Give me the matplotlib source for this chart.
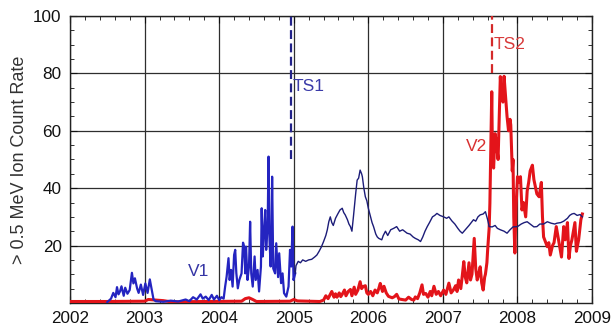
import matplotlib
matplotlib.use('Agg')
import matplotlib.pyplot as plt
import numpy as np
from matplotlib.ticker import MultipleLocator

plt.rcParams['font.family'] = ['Liberation Sans', 'DejaVu Sans']

# V1 count rate (year, value)
v1_t = [2002.50, 2002.55, 2002.58, 2002.61, 2002.63, 2002.65, 2002.67, 2002.69, 2002.72, 2002.74,
        2002.77, 2002.80, 2002.83, 2002.85, 2002.87, 2002.90, 2002.92, 2002.95, 2002.98, 2003.01,
        2003.04, 2003.07, 2003.10, 2003.12, 2003.15, 2003.25, 2003.35, 2003.45, 2003.55, 2003.60,
        2003.65, 2003.70, 2003.75, 2003.78, 2003.82, 2003.86, 2003.90, 2003.93, 2003.97, 2004.00,
        2004.03, 2004.06, 2004.08, 2004.10, 2004.125, 2004.14, 2004.16, 2004.18, 2004.20, 2004.215,
        2004.23, 2004.25, 2004.27, 2004.30, 2004.32, 2004.335, 2004.35, 2004.36, 2004.38, 2004.40,
        2004.415, 2004.43, 2004.45, 2004.475, 2004.49, 2004.515, 2004.535, 2004.56, 2004.57, 2004.585,
        2004.60, 2004.617, 2004.63, 2004.65, 2004.662, 2004.675, 2004.69, 2004.70, 2004.71, 2004.725,
        2004.75, 2004.765, 2004.79, 2004.805, 2004.83, 2004.85, 2004.87, 2004.90, 2004.93, 2004.95,
        2004.966, 2004.984, 2004.997, 2005.02,
        2005.03, 2005.06, 2005.09, 2005.12, 2005.16, 2005.20, 2005.24, 2005.28, 2005.31, 2005.34,
        2005.37, 2005.40, 2005.43, 2005.45, 2005.47, 2005.49, 2005.51, 2005.53, 2005.56, 2005.59,
        2005.62, 2005.65, 2005.67, 2005.69, 2005.72, 2005.74, 2005.76, 2005.78, 2005.80, 2005.83,
        2005.85, 2005.87, 2005.89, 2005.91, 2005.92, 2005.94, 2005.96, 2005.98, 2006.00, 2006.03,
        2006.05, 2006.07, 2006.10, 2006.12, 2006.14, 2006.18, 2006.20, 2006.23, 2006.26, 2006.30,
        2006.34, 2006.38, 2006.42, 2006.46, 2006.52, 2006.56, 2006.60, 2006.63, 2006.67, 2006.70,
        2006.73, 2006.76, 2006.79, 2006.82, 2006.86, 2006.89, 2006.92, 2006.96, 2007.01, 2007.05,
        2007.08, 2007.12, 2007.16, 2007.20, 2007.23, 2007.26, 2007.30, 2007.35, 2007.38, 2007.41,
        2007.44, 2007.47, 2007.50, 2007.54, 2007.57, 2007.60, 2007.62, 2007.66, 2007.70, 2007.73,
        2007.77, 2007.82, 2007.86, 2007.90, 2007.94, 2008.00, 2008.05, 2008.09, 2008.13, 2008.17,
        2008.22, 2008.26, 2008.30, 2008.35, 2008.40, 2008.45, 2008.50, 2008.53, 2008.58, 2008.62,
        2008.67, 2008.70, 2008.73, 2008.76, 2008.80, 2008.84, 2008.87]
v1_y = [0.3, 1.5, 3.5, 2.0, 5.5, 3.0, 4.0, 5.8, 2.5, 5.3,
        3.2, 4.5, 10.5, 6.8, 8.6, 5.0, 3.5, 6.4, 2.8, 6.8,
        3.5, 8.2, 4.0, 1.2, 0.6, 0.4, 0.8, 0.5, 1.2, 0.6,
        2.0, 1.2, 3.0, 1.5, 2.2, 1.0, 2.8, 1.2, 2.5, 1.0,
        2.0, 1.5, 5.7, 9.2, 15.6, 8.0, 11.5, 5.7, 16.7, 18.5,
        10.4, 5.1, 8.0, 10.3, 21.0, 19.6, 10.3, 19.6, 8.0, 12.7,
        28.3, 10.3, 5.7, 16.2, 8.0, 11.5, 4.0, 12.7, 33.0, 16.2,
        24.3, 32.4, 18.5, 26.6, 51.0, 22.0, 12.7, 20.2, 44.0, 12.0,
        10.3, 20.8, 9.0, 17.3, 6.9, 10.3, 3.4, 2.2, 5.7, 18.5,
        12.7, 26.6, 8.0, 10.3,
        13.0, 14.5, 14.0, 15.0, 14.5, 15.0, 15.2, 16.0, 16.7, 18.0,
        19.5, 21.4, 23.5, 25.5, 28.3, 30.0, 28.0, 27.0, 29.5, 31.0,
        32.4, 33.0, 31.5, 30.7, 29.0, 27.5, 26.6, 25.0, 30.0, 38.0,
        42.8, 43.5, 46.3, 45.0, 44.0, 40.0, 37.0, 35.6, 33.0, 30.0,
        28.0, 26.6, 24.0, 23.0, 22.5, 22.0, 23.5, 25.0, 23.5, 25.5,
        26.0, 26.6, 25.0, 25.5, 24.3, 24.0, 23.0, 22.5, 22.0, 21.4,
        23.0, 25.0, 26.6, 28.0, 30.0, 30.5, 31.2, 30.5, 30.0, 29.5,
        30.0, 28.6, 27.5, 26.0, 25.0, 24.3, 25.5, 27.0, 28.0, 29.0,
        28.5, 30.0, 30.7, 31.0, 31.8, 29.0, 26.6, 26.5, 27.0, 26.0,
        25.5, 25.0, 24.3, 25.5, 26.5, 26.6, 27.5, 28.0, 28.3, 27.5,
        26.5, 26.6, 27.5, 27.5, 28.3, 27.8, 27.5, 27.8, 28.0, 28.5,
        29.5, 30.5, 31.0, 31.2, 30.5, 30.8, 30.0]

# V2 count rate (year, value)
v2_t = [2002.00, 2002.50, 2003.00, 2003.05, 2003.15, 2003.25, 2003.35, 2003.80, 2004.30, 2004.35,
        2004.40, 2004.45, 2004.50, 2004.95, 2005.00, 2005.05, 2005.35, 2005.40, 2005.43, 2005.46,
        2005.49, 2005.51, 2005.54, 2005.56, 2005.58, 2005.61, 2005.63, 2005.65, 2005.68, 2005.70,
        2005.73, 2005.76, 2005.78, 2005.81, 2005.83, 2005.86, 2005.89, 2005.91, 2005.93, 2005.96,
        2005.98, 2006.00, 2006.03, 2006.06, 2006.09, 2006.12, 2006.14, 2006.16, 2006.19, 2006.21,
        2006.24, 2006.27, 2006.30, 2006.32, 2006.35, 2006.38, 2006.41, 2006.45, 2006.50, 2006.54,
        2006.58, 2006.61, 2006.63, 2006.66, 2006.69, 2006.72, 2006.74, 2006.77, 2006.80, 2006.83,
        2006.85, 2006.88, 2006.91, 2006.94, 2006.97, 2007.01, 2007.04, 2007.06, 2007.08, 2007.11,
        2007.14, 2007.17, 2007.19, 2007.21, 2007.24, 2007.26, 2007.28, 2007.30, 2007.32, 2007.35,
        2007.37, 2007.39, 2007.42, 2007.44, 2007.46, 2007.48, 2007.50, 2007.52, 2007.54, 2007.56,
        2007.57, 2007.59, 2007.60, 2007.62, 2007.63, 2007.64, 2007.655, 2007.665, 2007.68, 2007.70,
        2007.72, 2007.74, 2007.755, 2007.77, 2007.785, 2007.79, 2007.805, 2007.82, 2007.84, 2007.86,
        2007.88, 2007.90, 2007.91, 2007.93, 2007.94, 2007.95, 2007.965, 2007.98, 2008.00, 2008.02,
        2008.04, 2008.06, 2008.08, 2008.11, 2008.13, 2008.15, 2008.17, 2008.20, 2008.22, 2008.24,
        2008.26, 2008.29, 2008.32, 2008.335, 2008.35, 2008.38, 2008.40, 2008.42, 2008.44, 2008.47,
        2008.49, 2008.52, 2008.55, 2008.57, 2008.59, 2008.62, 2008.64, 2008.67, 2008.69, 2008.71,
        2008.73, 2008.77, 2008.79, 2008.82, 2008.85, 2008.87]
v2_y = [0.5, 0.5, 0.6, 1.2, 1.0, 0.8, 0.4, 0.5, 0.6, 1.5,
        1.8, 1.2, 0.5, 0.6, 1.2, 0.7, 0.5, 1.0, 2.5, 1.5,
        3.0, 4.0, 2.0, 3.2, 2.0, 3.5, 2.2, 3.0, 4.5, 2.5,
        4.0, 4.7, 2.5, 5.5, 3.0, 4.5, 7.4, 5.0, 5.7, 6.0,
        3.5, 3.0, 4.0, 2.5, 4.5, 3.5, 5.0, 6.8, 4.0, 5.8,
        3.5, 2.3, 2.0, 1.8, 2.2, 3.0, 1.4, 1.2, 1.0, 2.0,
        1.2, 1.0, 2.1, 1.5, 3.5, 6.3, 3.0, 3.3, 2.0, 4.0,
        2.5, 5.8, 3.0, 4.0, 2.5, 4.5, 3.0, 5.0, 6.9, 3.5,
        4.5, 6.0, 4.0, 8.0, 5.0, 9.5, 14.4, 9.0, 7.0, 14.0,
        8.0, 10.0, 22.5, 12.0, 8.0, 10.0, 12.6, 7.0, 4.5, 9.0,
        10.0, 14.0, 18.5, 26.0, 34.7, 51.0, 73.6, 50.0, 47.0, 59.0,
        55.0, 50.0, 65.0, 78.9, 72.0, 76.0, 70.0, 79.0, 72.0, 65.0,
        60.0, 64.0, 62.0, 46.0, 50.0, 30.0, 17.4, 33.0, 44.0, 42.0,
        44.0, 32.4, 35.0, 30.0, 39.0, 42.0, 46.0, 48.0, 43.0, 40.5,
        38.0, 37.0, 42.0, 30.0, 23.0, 21.0, 19.6, 21.0, 16.7, 20.0,
        21.0, 26.6, 22.0, 19.0, 16.0, 26.6, 22.0, 28.0, 15.5, 20.0,
        22.0, 28.0, 18.0, 22.0, 29.0, 31.0]

# termination shock crossings
ts1 = 2004.96
ts2 = 2007.66

x_ticks = [2002, 2003, 2004, 2005, 2006, 2007, 2008, 2009]
y_ticks = [20, 40, 60, 80, 100]

fig = plt.figure(figsize=(6.11, 3.30), dpi=100)
ax = fig.add_axes([0.1146, 0.082, 0.8544, 0.8695])

# -------------------
v2_t = np.array(v2_t)
v2_y = np.array(v2_y)
ax.plot(v2_t, v2_y, color='#e3141a', lw=2.2, zorder=3)

v1_t = np.array(v1_t)
v1_y = np.array(v1_y)
early = v1_t <= 2005.02
late = v1_t >= 2005.02
ax.plot(v1_t[early], v1_y[early], color='#2424c0', lw=1.6, zorder=4)
ax.plot(v1_t[late], v1_y[late], color='#1c1c78', lw=1.0, zorder=4)

ax.plot([ts1, ts1], [50, 100], color='#23238a', lw=1.6, ls=(0, (4, 2)), zorder=4)
ax.plot([ts2, ts2], [80, 100], color='#d42a2a', lw=1.6, ls=(0, (4, 2)), zorder=4)

ax.text(2004.99, 75.5, 'TS1', color='#3a3aa8', fontsize=12.5, va='center', ha='left')
ax.text(2007.68, 90, 'TS2', color='#d83a3a', fontsize=12.5, va='center', ha='left')
ax.text(2003.72, 11, 'V1', color='#3535a5', fontsize=12.5, va='center', ha='center')
ax.text(2007.45, 54.5, 'V2', color='#d83030', fontsize=12.5, va='center', ha='center')

# -------------------
ax.set_xlim(2002, 2009)
ax.set_ylim(0, 100)
ax.set_xticks(x_ticks)
ax.set_xticklabels([str(x) for x in x_ticks])
ax.set_yticks(y_ticks)
ax.xaxis.set_minor_locator(MultipleLocator(0.2))
ax.yaxis.set_minor_locator(MultipleLocator(5))
ax.tick_params(which='both', direction='in', top=True, right=True, labelsize=12.3, colors='#111111')
ax.tick_params(which='major', length=5, pad=6)
ax.tick_params(which='minor', length=3)
ax.grid(True, which='major', color='#2e2e2e', lw=0.9)
ax.set_axisbelow(True)
for s in ax.spines.values():
    s.set_color('#222222')
    s.set_linewidth(1.0)

ax.set_ylabel('> 0.5 MeV Ion Count Rate', fontsize=13, color='#333333', labelpad=4)

fig.savefig('out.png', dpi=100)
